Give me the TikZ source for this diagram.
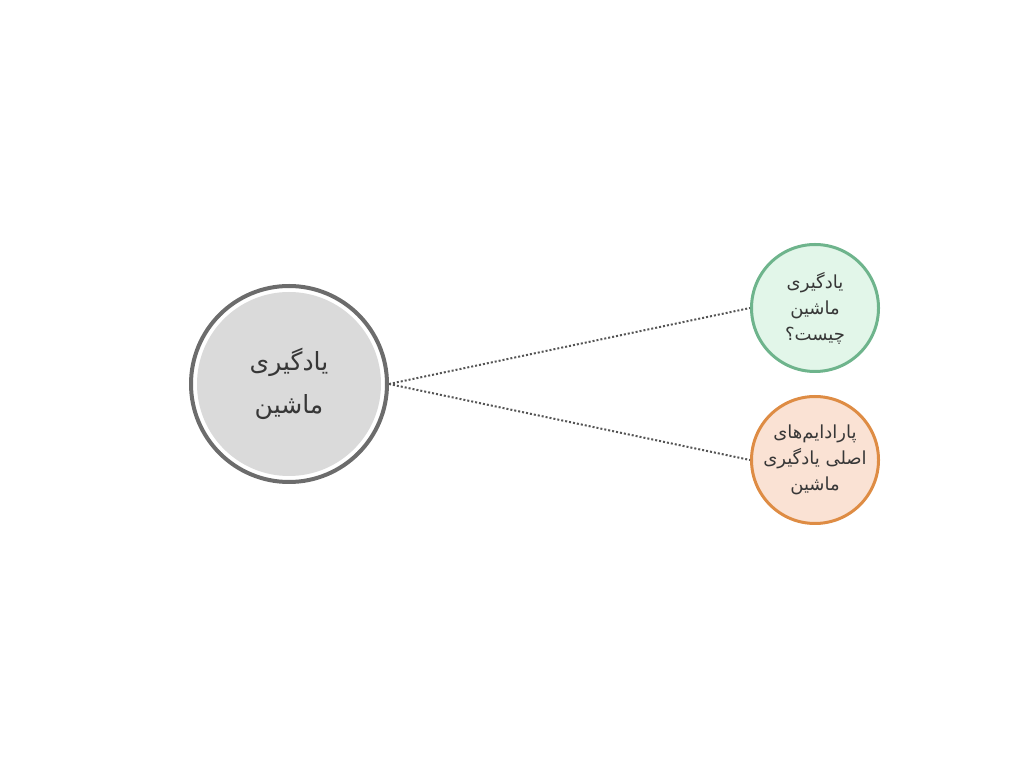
\documentclass[tikz,border=0pt]{standalone}
\usepackage{fontspec}
\setmainfont{DejaVu Sans}
\newfontfamily\arabicfont[Script=Arabic]{DejaVu Sans}
\TeXXeTstate=1
\definecolor{ringgray}{RGB}{108,108,108}
\definecolor{maingray}{RGB}{218,218,218}
\definecolor{greenline}{RGB}{110,180,140}
\definecolor{greenfill}{RGB}{226,246,233}
\definecolor{orangeline}{RGB}{222,140,68}
\definecolor{orangefill}{RGB}{250,226,212}
\definecolor{linkgray}{RGB}{85,85,85}
\definecolor{txt}{RGB}{55,55,55}
\begin{document}
\begin{tikzpicture}[x=1pt,y=1pt,
  mainnode/.style={circle, draw=ringgray, line width=4pt, fill=white, minimum size=196pt, inner sep=0pt,
    text=txt, align=center, font=\arabicfont\fontsize{25}{43}\selectfont,
    path picture={\fill[maingray] (path picture bounding box.center) circle (92);}},
  subnode/.style={circle, line width=3pt, minimum size=127pt, inner sep=0pt,
    text=txt, align=center, font=\arabicfont\fontsize{18}{26}\selectfont},
  link/.style={draw=linkgray, line width=2pt, dash pattern=on 2pt off 2pt}]
\useasboundingbox (0,0) rectangle (1024,768);
\node[mainnode] (main) at (289,384) {\beginR یادگیری\endR\\\beginR ماشین\endR};
\node[subnode, draw=greenline, fill=greenfill] (what) at (815,460) {\beginR یادگیری\endR\\\beginR ماشین\endR\\\beginR چیست؟\endR};
\node[subnode, draw=orangeline, fill=orangefill] (para) at (815,308) {\beginR پارادایم‌های\endR\\\beginR اصلی یادگیری\endR\\\beginR ماشین\endR};
\draw[link] (main.east) -- (what.west);
\draw[link] (main.east) -- (para.west);
\end{tikzpicture}
\end{document}
